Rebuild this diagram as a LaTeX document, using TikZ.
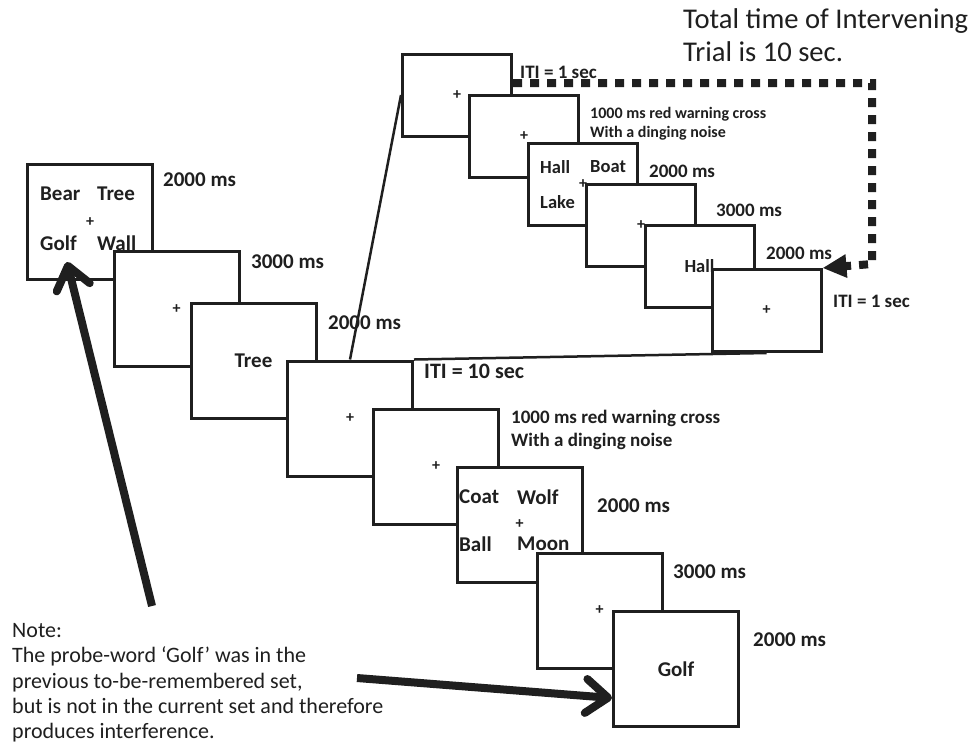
\documentclass[tikz,border=0pt]{standalone}
\usepackage{fontspec}
\setmainfont{Carlito}
\usetikzlibrary{arrows.meta}
\newcommand{\fixcross}{{\fontsize{16}{16}\selectfont\bfseries +}}

\begin{document}
\begin{tikzpicture}[x=1pt, y=-1pt]
    % Define styles
    \tikzstyle{box} = [rectangle, draw=black!88, fill=white, line width=3pt, minimum width=125pt, minimum height=115pt, inner sep=0pt, text=black!88, font=\fontsize{21}{25}\selectfont\bfseries]
    \tikzstyle{smallbox} = [box, minimum width=109pt, minimum height=82pt, font=\fontsize{18.5}{22}\selectfont\bfseries]
    \tikzstyle{word} = [anchor=west, inner sep=0pt, text=black!88, font=\fontsize{21}{25}\selectfont\bfseries]
    \tikzstyle{smallword} = [word, font=\fontsize{18.5}{22}\selectfont\bfseries]
    \tikzstyle{dur} = [anchor=west, inner sep=0pt, align=left, text=black!88, font=\fontsize{21}{25}\selectfont\bfseries]
    \tikzstyle{smalldur} = [dur, font=\fontsize{19}{23}\selectfont\bfseries]
    \tikzstyle{tinydur} = [dur, font=\fontsize{16}{19}\selectfont\bfseries]
    \tikzstyle{link} = [draw=black!88, line width=2.5pt]
    \tikzstyle{bigarrow} = [draw=black!88, line width=8pt, -{Straight Barb[length=22pt, width=34pt, line cap=round, line join=round]}]
    \tikzstyle{dotarrow} = [draw=black!88, line width=8pt, dash pattern=on 9pt off 8pt, -{Triangle[length=24pt, width=22pt]}]

    \fill[white] (0,0) rectangle (974,748);
    \useasboundingbox (0,0) rectangle (974,748);

    % Current trial
    \node[box] (b1) at (90,222) {\fixcross};
    \node[word] at (40,194) {Bear};
    \node[word] at (97,194) {Tree};
    \node[word] at (40,243) {Golf};
    \node[word] at (97,243) {Wall};
    \node[box] (b2) at (176.5,309) {\fixcross};
    \node[box] (b3) at (253.5,360.5) {Tree};
    \node[box] (b4) at (350,418.5) {\fixcross};
    \node[box] (b5) at (436,466.5) {\fixcross};
    \node[box] (b6) at (519.5,524.5) {\fixcross};
    \node[word] at (459,497) {Coat};
    \node[word] at (517,497) {Wolf};
    \node[word] at (459,544) {Ball};
    \node[word] at (517,544) {Moon};
    \node[box] (b7) at (599.5,610.5) {\fixcross};
    \node[box] (b8) at (676,669) {Golf};

    % Intervening trial
    \node[smallbox] (bA) at (457,95) {\fixcross};
    \node[smallbox] (bB) at (524,136) {\fixcross};
    \node[smallbox] (bC) at (583,184) {\fixcross};
    \node[smallword] at (540,167) {Hall};
    \node[smallword] at (590,167) {Boat};
    \node[smallword] at (540,202) {Lake};
    \node[smallbox] (bD) at (641,225) {\fixcross};
    \node[smallbox] (bE) at (699.5,266.5) {Hall};
    \node[smallbox] (bF) at (766.5,310.5) {\fixcross};

    % Durations
    \node[dur] at (163,180) {2000 ms};
    \node[dur] at (251,262) {3000 ms};
    \node[dur] at (328,323) {2000 ms};
    \node[dur, font=\fontsize{22}{26}\selectfont\bfseries] at (424,371) {ITI = 10 sec};
    \node[smalldur] at (511,429.5) {1000 ms red warning cross\\With a dinging noise};
    \node[dur] at (597,506) {2000 ms};
    \node[dur] at (673,572) {3000 ms};
    \node[dur] at (753,640) {2000 ms};
    \node[smalldur] at (520,72) {ITI = 1 sec};
    \node[tinydur] at (590,123.5) {1000 ms red warning cross\\With a dinging noise};
    \node[smalldur] at (649,171) {2000 ms};
    \node[smalldur] at (716,210) {3000 ms};
    \node[smalldur] at (766,253) {2000 ms};
    \node[smalldur] at (833,301) {ITI = 1 sec};

    % Texts
    \node[anchor=north west, inner sep=0pt, align=left, text=black!88, font=\fontsize{28.6}{33}\selectfont] (total) at (683,8) {Total time of Intervening\\Trial is 10 sec.};
    \node[anchor=north west, inner sep=0pt, align=left, text=black!88, font=\fontsize{22}{25.4}\selectfont] (note) at (12,623) {Note:\\The probe-word ‘Golf’ was in the\\previous to-be-remembered set,\\but is not in the current set and therefore\\produces interference.};

    % Arrows
    \coordinate (probetail) at (152,606);
    \coordinate (probetip) at (67,262);
    \coordinate (notetail) at (357,678);
    \coordinate (looptop) at (872,83);
    \coordinate (loopbottom) at (872,264);
    \draw[link] (b4.north) -- (bA.west);
    \draw[link] (b4.north east) -- (bF.south);
    \draw[dotarrow] ([yshift=12pt]bA.east) -- (looptop) -- (loopbottom) -- (bF.north east);
    \draw[bigarrow] (probetail) -- (probetip);
    \draw[bigarrow] (notetail) -- ([yshift=-29pt]b8.west);
\end{tikzpicture}
\end{document}
